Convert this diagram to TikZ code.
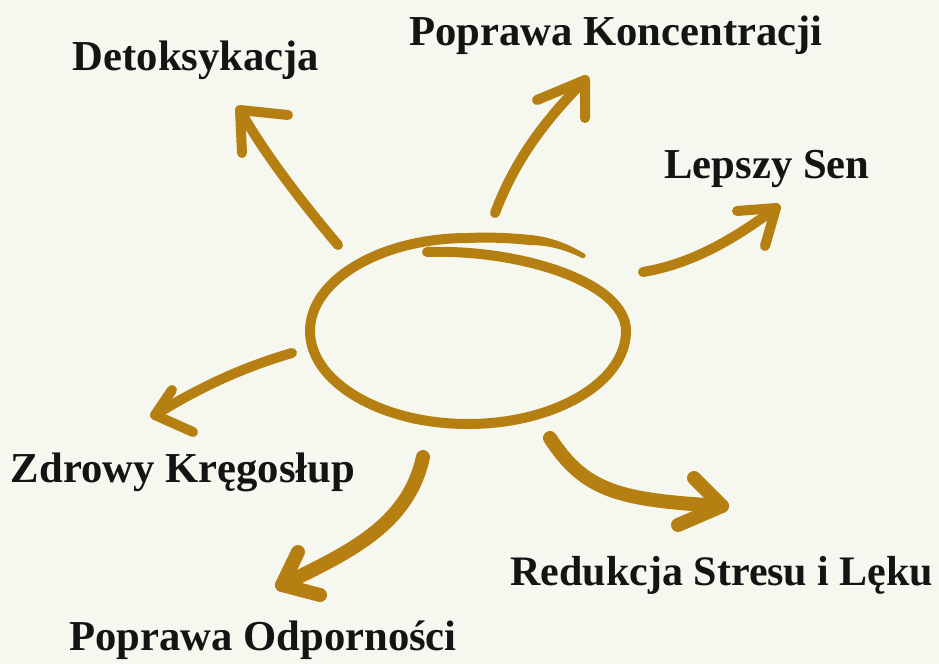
\documentclass[tikz,border=0pt]{standalone}
\usepackage{fontspec}
\setmainfont{Liberation Serif}
\definecolor{bg}{HTML}{F6F7EE}
\definecolor{brn}{HTML}{B57F12}
\definecolor{ink}{HTML}{141414}
\begin{document}
\begin{tikzpicture}[x=0.75pt,y=-0.75pt,
  lbl/.style={font=\fontsize{32}{36}\selectfont\bfseries, text=ink, inner sep=0, anchor=base},
  stroke/.style={draw=brn, line width=7.5pt, line cap=round, line join=round},
  heavy/.style={draw=brn, line width=10.5pt, line cap=round, line join=round}]
\fill[bg] (0,0) rectangle (939,664);
\useasboundingbox (0,0) rectangle (939,664);

% labels
\node[lbl] (det) at (196,70) {Detoksykacja};
\node[lbl] (kon) at (616,45) {Poprawa Koncentracji};
\node[lbl] (sen) at (767,178) {Lepszy Sen};
\node[lbl] (krg) at (183,482) {Zdrowy Kręgosłup};
\node[lbl, font=\fontsize{31.5}{36}\selectfont\bfseries] (str) at (722,585) {Redukcja Stresu i Lęku};
\node[lbl] (odp) at (263,650) {Poprawa Odporności};

% central hand-drawn loop
\coordinate (ca) at (427,252);
\coordinate (cr) at (626,331);
\coordinate (cb) at (468,424);
\coordinate (cl) at (310,331);
\coordinate (ct) at (468,238);
\coordinate (cm) at (530,240);
\draw[stroke] (ca) .. controls (520,249) and (626,282) .. (cr)
  .. controls (626,382) and (555,424) .. (cb)
  .. controls (381,424) and (310,382) .. (cl)
  .. controls (310,280) and (381,238) .. (ct)
  .. controls (490,237) and (510,238) .. (cm);
% tapering tail of the loop
\fill[brn] (530,235) .. controls (553,237) and (572,246) .. (585,254)
  .. controls (587,256) and (584,259) .. (582,258)
  .. controls (570,252) and (552,245) .. (530,245) -- cycle;
\draw[draw=brn, line width=4pt, line cap=round] (520,420) .. controls (500,425) and (440,426) .. (410,420);

% arrow 1
\coordinate (s1) at (338,245); \coordinate (t1) at (240,110);
\draw[stroke] (s1) .. controls (300,200) and (262,150) .. (t1);
\draw[stroke] (288,115) -- (t1) -- (242,153);
% arrow 2
\coordinate (s2) at (495,213); \coordinate (t2) at (585,80);
\draw[stroke] (s2) .. controls (515,160) and (545,120) .. (t2);
\draw[stroke] (537,100) -- (t2) -- (585,118);
% arrow 3
\coordinate (s3) at (643,272); \coordinate (t3) at (776,208);
\draw[stroke] (s3) .. controls (690,264) and (730,242) .. (t3);
\draw[stroke] (737,211) -- (t3) -- (765,246);
% arrow 4
\coordinate (s4) at (292,353); \coordinate (t4) at (155,415);
\draw[stroke] (s4) .. controls (240,368) and (195,390) .. (t4);
\draw[stroke] (172,390) -- (t4) -- (193,432);
% arrow 5
\coordinate (s5) at (423,457); \coordinate (t5) at (282,585);
\draw[heavy] (s5) .. controls (408,525) and (350,552) .. (t5);
\draw[heavy] (298,552) -- (t5) -- (320,595);
% arrow 6
\coordinate (s6) at (550,438); \coordinate (t6) at (722,506);
\draw[heavy] (s6) .. controls (585,492) and (620,500) .. (t6);
\draw[heavy] (694,478) -- (t6) -- (678,525);
\end{tikzpicture}
\end{document}
